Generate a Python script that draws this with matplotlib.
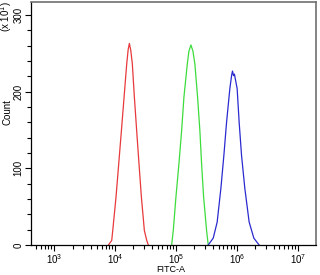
import numpy as np
import matplotlib
matplotlib.use("Agg")
import matplotlib.pyplot as plt
from matplotlib.ticker import LogLocator, MultipleLocator

plt.rcParams['font.family'] = ['Liberation Sans', 'DejaVu Sans']

# histogram outlines: log10(FITC-A) and count (x10)
red_log = [3.891, 3.945, 3.962, 4.016, 4.060, 4.104, 4.148, 4.191, 4.215, 4.235,
           4.258, 4.284, 4.317, 4.355, 4.393, 4.432, 4.481, 4.520, 4.546]
red_cnt = [0, 6, 19, 63, 106, 149, 193, 236, 255, 263,
           254, 236, 193, 149, 106, 63, 19, 6, 0]

green_log = [4.929, 4.956, 5.000, 5.049, 5.093, 5.131, 5.186, 5.213, 5.246,
             5.279, 5.311, 5.355, 5.393, 5.421, 5.454, 5.503, 5.530]
green_cnt = [0, 19, 63, 106, 149, 193, 236, 253, 261,
             253, 236, 193, 149, 106, 63, 19, 0]

blue_log = [5.530, 5.612, 5.677, 5.738, 5.787, 5.831, 5.885, 5.915, 5.929,
            5.945, 5.960, 6.005, 6.038, 6.077, 6.131, 6.202, 6.279, 6.366]
blue_cnt = [0, 9, 30, 74, 117, 160, 204, 222, 227,
            221, 223, 204, 160, 117, 74, 30, 9, 0]

fig = plt.figure(figsize=(3.2, 2.75), dpi=100)
ax = fig.add_axes([0.097, 0.109, 0.8905, 0.8835])

ax.plot(10 ** np.array(red_log), red_cnt, color='#e8393c', lw=0.9)
ax.plot(10 ** np.array(green_log), green_cnt, color='#3ddc3d', lw=0.9)
ax.plot(10 ** np.array(blue_log), blue_cnt, color='#2a2ad0', lw=0.9)

ax.set_xscale('log')
ax.set_xlim(10 ** 2.62, 10 ** 7.30)
ax.set_ylim(0, 317)

ax.xaxis.set_major_locator(LogLocator(base=10, numticks=10))
ax.xaxis.set_minor_locator(LogLocator(base=10, subs=np.arange(2, 10), numticks=20))
ax.yaxis.set_major_locator(MultipleLocator(100))
ax.yaxis.set_minor_locator(MultipleLocator(20))

ax.tick_params(which='major', length=4, width=0.8, labelsize=7)
ax.tick_params(which='minor', length=3, width=0.8)
ax.tick_params(axis='x', pad=1.5)
ax.tick_params(axis='y', pad=1.5)
for lab in ax.get_yticklabels():
    lab.set_rotation(90)
    lab.set_va('center')

for s in ['top', 'right']:
    ax.spines[s].set_color('#707070')
    ax.spines[s].set_linewidth(1.2)
for s in ['left', 'bottom']:
    ax.spines[s].set_linewidth(0.9)

fig.text(0.534, 0.02, 'FITC-A', fontsize=6.5, ha='center', va='center')
fig.text(0.022, 0.593, 'Count', rotation=90, fontsize=7, ha='center', va='center')
fig.text(0.02, 0.997, r'(x 10$^{1}$)', rotation=90, fontsize=7, ha='center', va='top')

fig.savefig('out.png', dpi=100)
